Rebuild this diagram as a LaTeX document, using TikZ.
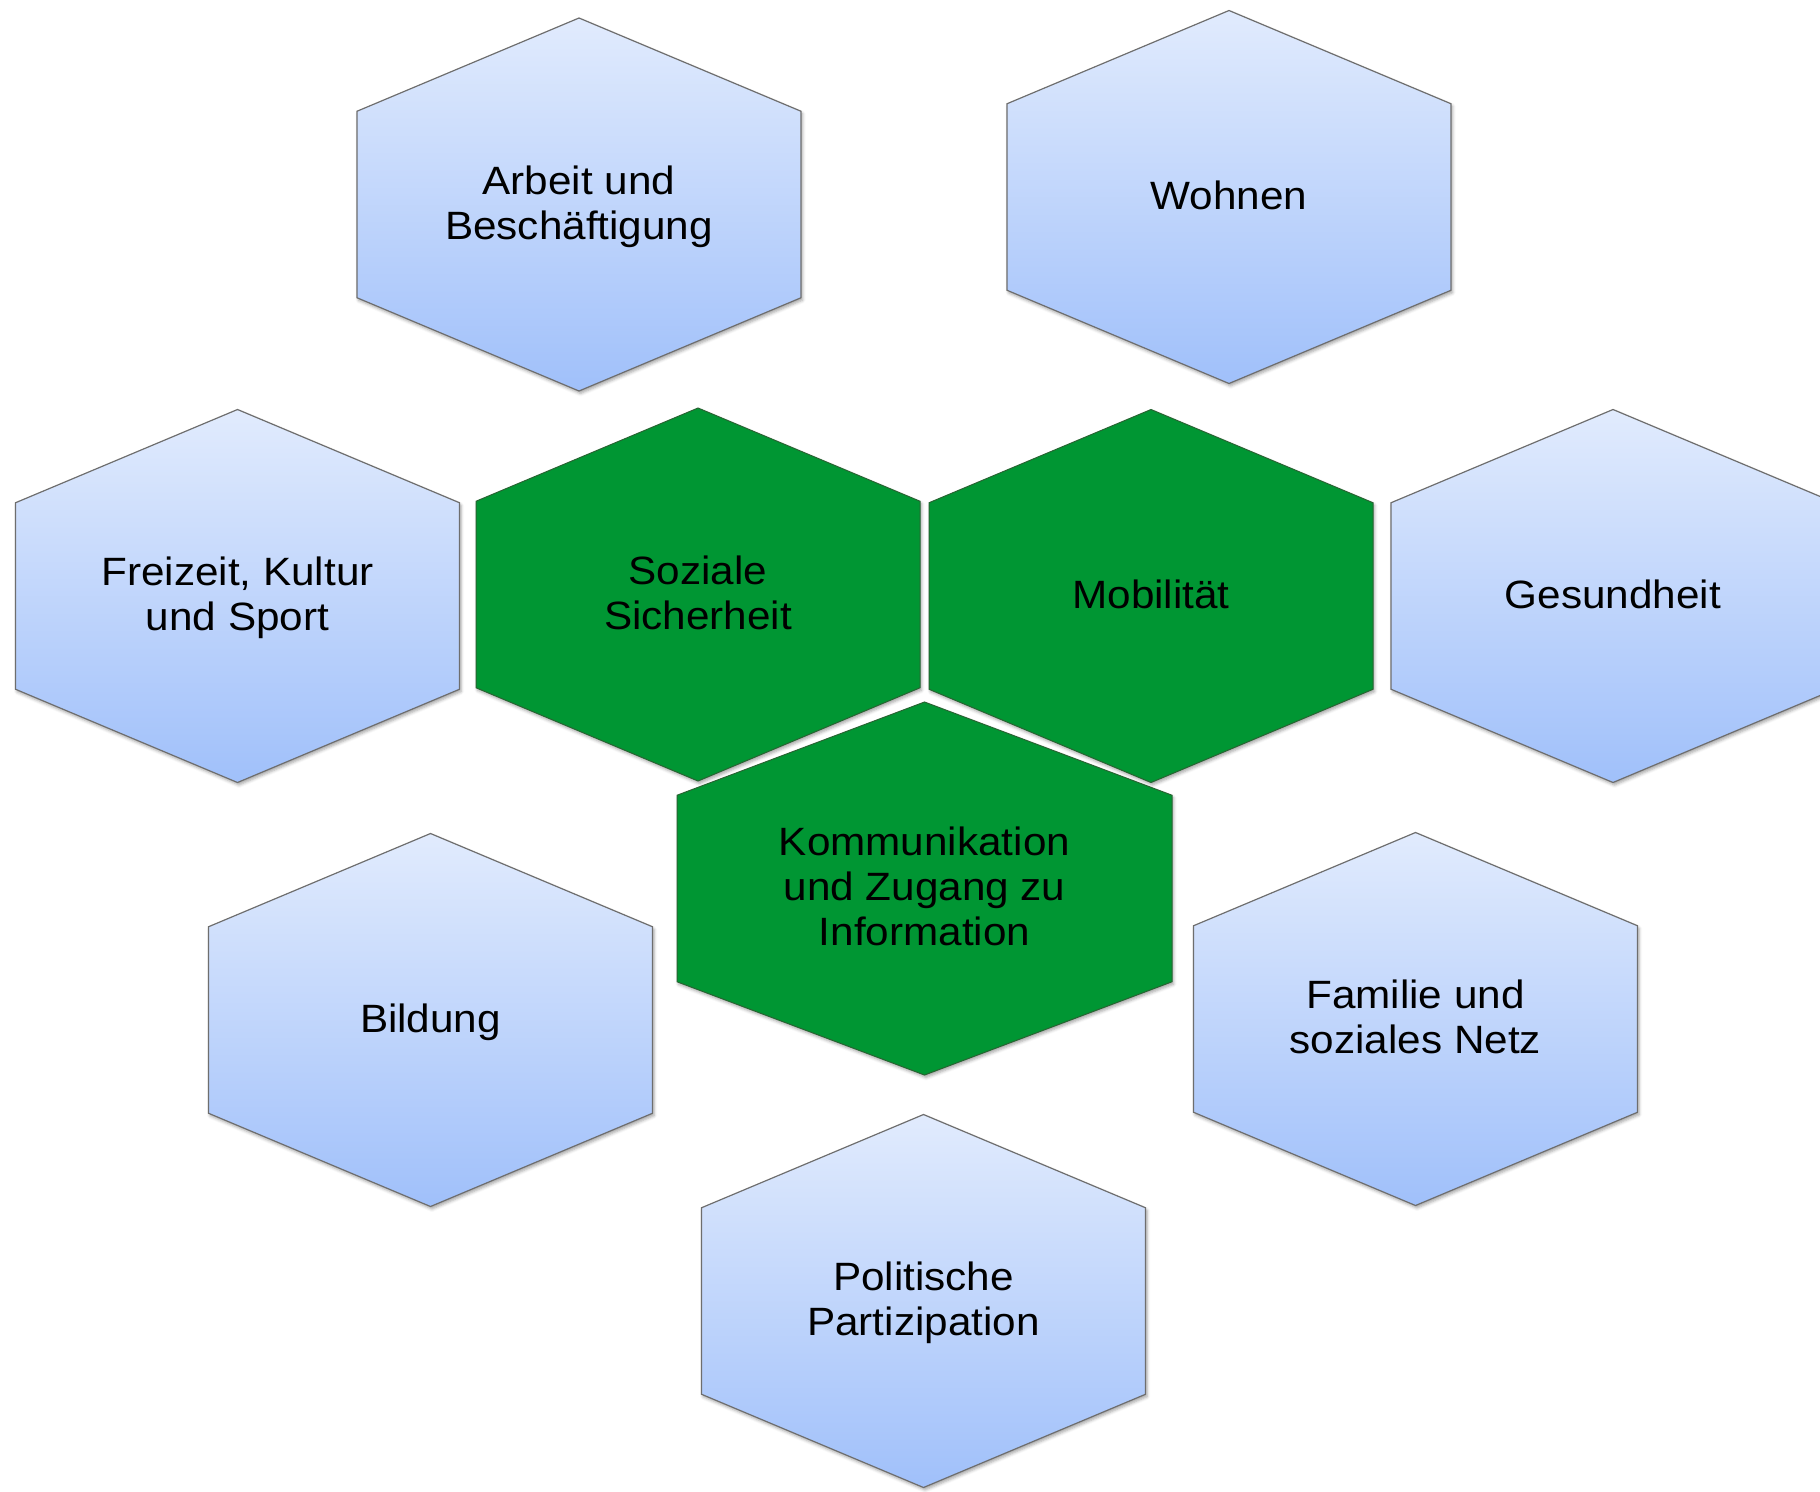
\documentclass[tikz,border=0pt]{standalone}
\usepackage{fontspec}
\setmainfont{Liberation Sans}[FakeStretch=1.07]
\usetikzlibrary{shadows.blur}
\definecolor{bluetop}{RGB}{225,235,253}
\definecolor{bluebot}{RGB}{160,192,250}
\definecolor{hexgreen}{RGB}{0,150,51}
\definecolor{greenedge}{RGB}{40,100,50}
\definecolor{blueedge}{RGB}{110,110,110}
\tikzset{
  hexshadow/.style={blur shadow={shadow xshift=1.5pt, shadow yshift=-2.5pt, shadow blur radius=3pt, shadow opacity=35}},
  bluehex/.style={draw=blueedge, line width=1.2pt, top color=bluetop, bottom color=bluebot, hexshadow},
  greenhex/.style={draw=greenedge, line width=1pt, fill=hexgreen, hexshadow},
  lbl/.style={font=\fontsize{39.5}{45}\selectfont, align=center, inner sep=0pt, text depth=0pt, text=black, yshift=2pt}
}
\newcommand{\hexcell}[6]{%
  \path[#1] ({#3},{#4-186.5}) -- ++({#5/2},93.25) -- ++(0,186.5) -- ++({-#5/2},93.25)
    -- ++({-#5/2},-93.25) -- ++(0,-186.5) -- cycle;
  \node[lbl] (#2) at (#3,#4) {#6};
}
\begin{document}
\begin{tikzpicture}[x=1pt,y=-1pt]
\useasboundingbox (0,0) rectangle (1820,1491);
\clip (0,0) rectangle (1820,1491);
\hexcell{bluehex}{arbeit}{579}{204.5}{444}{Arbeit und\\Beschäftigung}
\hexcell{bluehex}{wohnen}{1229}{197}{444}{Wohnen}
\hexcell{bluehex}{freizeit}{237.5}{596}{444}{Freizeit, Kultur\\und Sport}
\hexcell{greenhex}{soziale}{698}{594.5}{444}{Soziale\\Sicherheit}
\hexcell{greenhex}{mobil}{1151}{596}{444}{Mobilität}
\hexcell{bluehex}{gesund}{1613}{596}{444}{Gesundheit}
\hexcell{bluehex}{bildung}{430.5}{1020}{444}{Bildung}
\hexcell{bluehex}{familie}{1415.5}{1019}{444}{Familie und\\soziales Netz}
\hexcell{bluehex}{politik}{923.5}{1301}{444}{Politische\\Partizipation}
\hexcell{greenhex}{komm}{924.5}{888.5}{495}{Kommunikation\\und Zugang zu\\Information}
\end{tikzpicture}
\end{document}
